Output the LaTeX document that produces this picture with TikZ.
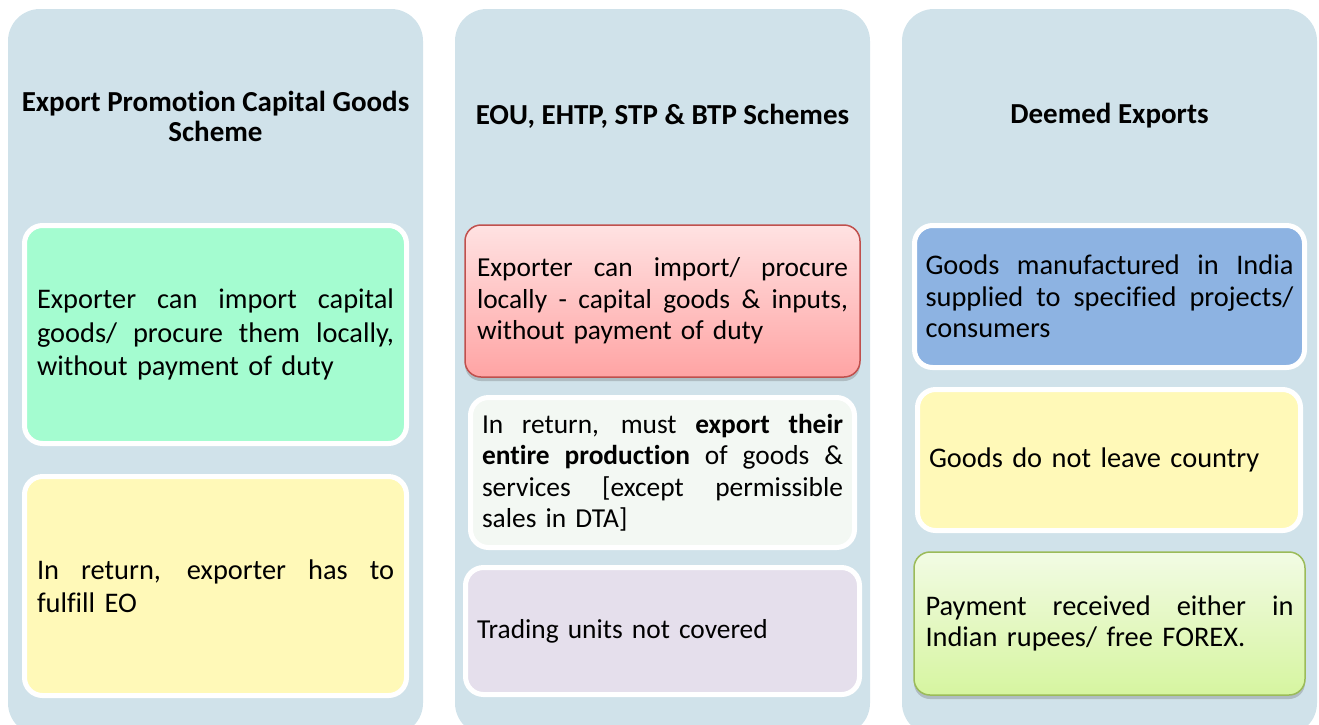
\documentclass[tikz,border=0pt]{standalone}
\usepackage{fontspec}
\setmainfont{Carlito}[Ligatures=NoCommon]
\usetikzlibrary{shadows}
\definecolor{colbg}{RGB}{208,226,234}
\definecolor{mint}{RGB}{164,252,208}
\definecolor{paleyellow}{RGB}{255,249,184}
\definecolor{redtop}{RGB}{255,226,226}
\definecolor{redbot}{RGB}{255,164,164}
\definecolor{redline}{RGB}{192,80,77}
\definecolor{palegreen}{RGB}{243,248,243}
\definecolor{lavender}{RGB}{229,223,236}
\definecolor{softblue}{RGB}{141,179,226}
\definecolor{greentop}{RGB}{242,251,228}
\definecolor{greenbot}{RGB}{214,245,160}
\definecolor{greenline}{RGB}{155,187,89}
\newcommand{\jline}[2]{\leavevmode\hbox to #1{\spaceskip=\fontdimen2\font plus 1fil\relax #2}}
\tikzset{
  column/.style={fill=colbg, draw=none, rounded corners=32pt, minimum width=415pt, minimum height=726pt, inner sep=0pt},
  headtext/.style={font=\bfseries\fontsize{29}{30}\selectfont, align=center, inner sep=0pt},
  whitebox/.style={draw=white, line width=5pt, rounded corners=18pt, inner sep=0pt, align=left},
  colatext/.style={font=\fontsize{28.4}{33.5}\selectfont},
  colbtext/.style={font=\fontsize{27.4}{31.5}\selectfont},
  colctext/.style={font=\fontsize{28.4}{31.5}\selectfont},
  redbox/.style={draw=redline, line width=1.5pt, rounded corners=16pt, inner sep=0pt, align=left,
    top color=redtop, bottom color=redbot,
    drop shadow={shadow xshift=0pt, shadow yshift=-4pt, opacity=0.3, fill=black!60}},
  greenbox/.style={draw=greenline, line width=1.5pt, rounded corners=16pt, inner sep=0pt, align=left,
    top color=greentop, bottom color=greenbot,
    drop shadow={shadow xshift=0pt, shadow yshift=-4pt, opacity=0.3, fill=black!60}},
}
\begin{document}
\begin{tikzpicture}[x=1pt,y=-1pt]
\useasboundingbox (0,0) rectangle (1319,724);
\begin{scope}
\clip (0,0) rectangle (1319,724);
\node[column] (c1) at (215.5,372) {};
\node[column] (c2) at (662.5,372) {};
\node[column] (c3) at (1109.5,372) {};
\end{scope}
% titles
\node[headtext] (t1) at (215.5,116) {Export Promotion Capital Goods\\Scheme};
\node[headtext] (t2) at (662.5,116) {EOU, EHTP, STP \& BTP Schemes};
\node[headtext] (t3) at (1109.5,116) {Deemed Exports};
% column 1
\node[whitebox, colatext, fill=mint, minimum width=382pt, minimum height=218pt, text width=357pt] (a1) at (215.5,334.5)
  {\jline{357pt}{Exporter can import capital}\\\jline{357pt}{goods/ procure them locally,}\\without payment of duty};
\node[whitebox, colatext, fill=paleyellow, minimum width=382pt, minimum height=219pt, text width=357pt] (a2) at (215.5,586)
  {\jline{357pt}{In return, exporter has to}\\fulfill EO};
% column 2
\node[redbox, colbtext, minimum width=395pt, minimum height=152pt, text width=371pt] (b1) at (662.5,301)
  {\jline{371pt}{Exporter can import/ procure}\\\jline{371pt}{locally - capital goods \& inputs,}\\without payment of duty};
\node[whitebox, colbtext, fill=palegreen, minimum width=384pt, minimum height=150pt, text width=361pt] (b2) at (662.5,472.5)
  {\jline{361pt}{In return, must \textbf{export their}}\\\jline{361pt}{\textbf{entire production} of goods \&}\\\jline{361pt}{services [except permissible}\\sales in DTA]};
\node[whitebox, colbtext, fill=lavender, minimum width=394pt, minimum height=127pt, text width=371pt] (b3) at (662.5,631)
  {Trading units not covered};
% column 3
\node[whitebox, colctext, fill=softblue, minimum width=390pt, minimum height=142pt, text width=368pt] (d1) at (1109.5,296.5)
  {\jline{368pt}{Goods manufactured in India}\\\jline{368pt}{supplied to specified projects/}\\consumers};
\node[whitebox, colctext, fill=paleyellow, minimum width=383pt, minimum height=141pt, text width=360pt] (d2) at (1109,460)
  {Goods do not leave country};
\node[greenbox, colctext, minimum width=391pt, minimum height=143pt, text width=368pt] (d3) at (1109.5,623.5)
  {\jline{368pt}{Payment received either in}\\Indian rupees/ free FOREX.};
\end{tikzpicture}
\end{document}
